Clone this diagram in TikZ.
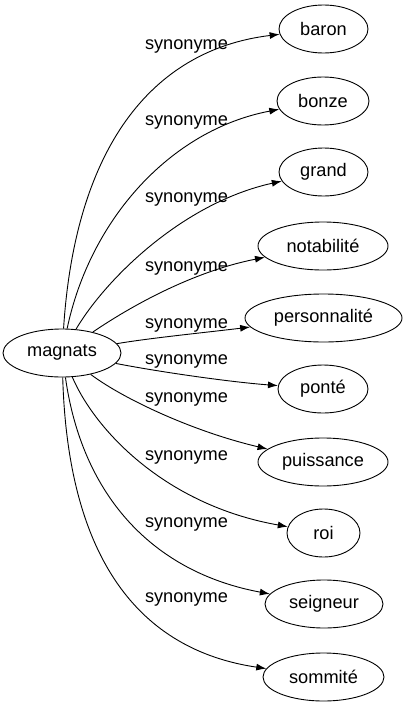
\documentclass[tikz,border=0pt]{standalone}
\usepackage{fontspec}
\setmainfont{Liberation Sans}
\usetikzlibrary{shapes.geometric,arrows.meta}
\begin{document}
\begin{tikzpicture}[x=1pt,y=-1pt,
  word/.style={ellipse,draw,line width=0.9pt,inner sep=0pt,minimum height=48pt,font=\fontsize{18.2}{20}\selectfont},
  rel/.style={font=\fontsize{18.2}{20}\selectfont,inner sep=0pt},
  link/.style={line width=0.9pt,-{Latex[length=10pt,width=7pt]}}]
\useasboundingbox (0,0) rectangle (408,707);
\node[word,minimum width=118pt] (m) at (62,353) {magnats};
\node[word,minimum width=89pt] (n1) at (323.5,29) {baron};
\node[word,minimum width=92pt] (n2) at (323,101) {bonze};
\node[word,minimum width=89pt] (n3) at (323.5,172) {grand};
\node[word,minimum width=130pt] (n4) at (323,246) {notabilité};
\node[word,minimum width=157pt] (n5) at (323.5,318) {personnalité};
\node[word,minimum width=90pt] (n6) at (323,389) {ponté};
\node[word,minimum width=130pt] (n7) at (323,462) {puissance};
\node[word,minimum width=73pt] (n8) at (323.5,533) {roi};
\node[word,minimum width=118pt] (n9) at (324,604) {seigneur};
\node[word,minimum width=121pt] (n10) at (323.5,677) {sommité};
\draw[link] (m) .. controls (75,150) and (150,50) .. (n1);
\draw[link] (m) .. controls (90,220) and (170,130) .. (n2);
\draw[link] (m) .. controls (105,280) and (182,203) .. (n3);
\draw[link] (m) .. controls (140,300) and (200,270) .. (n4);
\draw[link] (m) .. controls (150,338) and (210,332) .. (n5);
\draw[link] (m) .. controls (160,372) and (230,382) .. (n6);
\draw[link] (m) .. controls (125,400) and (195,432) .. (n7);
\draw[link] (m) .. controls (95,430) and (165,505) .. (n8);
\draw[link] (m) .. controls (82,495) and (152,572) .. (n9);
\draw[link] (m) .. controls (68,560) and (140,650) .. (n10);
\node[rel] (l1) at (186.5,46.4) {synonyme};
\node[rel] (l2) at (186.5,122) {synonyme};
\node[rel] (l3) at (186.5,199.5) {synonyme};
\node[rel] (l4) at (186.5,268.4) {synonyme};
\node[rel] (l5) at (186.5,325) {synonyme};
\node[rel] (l6) at (186.5,361.5) {synonyme};
\node[rel] (l7) at (186.5,399.4) {synonyme};
\node[rel] (l8) at (186.5,457) {synonyme};
\node[rel] (l9) at (186.5,524) {synonyme};
\node[rel] (l10) at (186.5,599) {synonyme};
\end{tikzpicture}
\end{document}
